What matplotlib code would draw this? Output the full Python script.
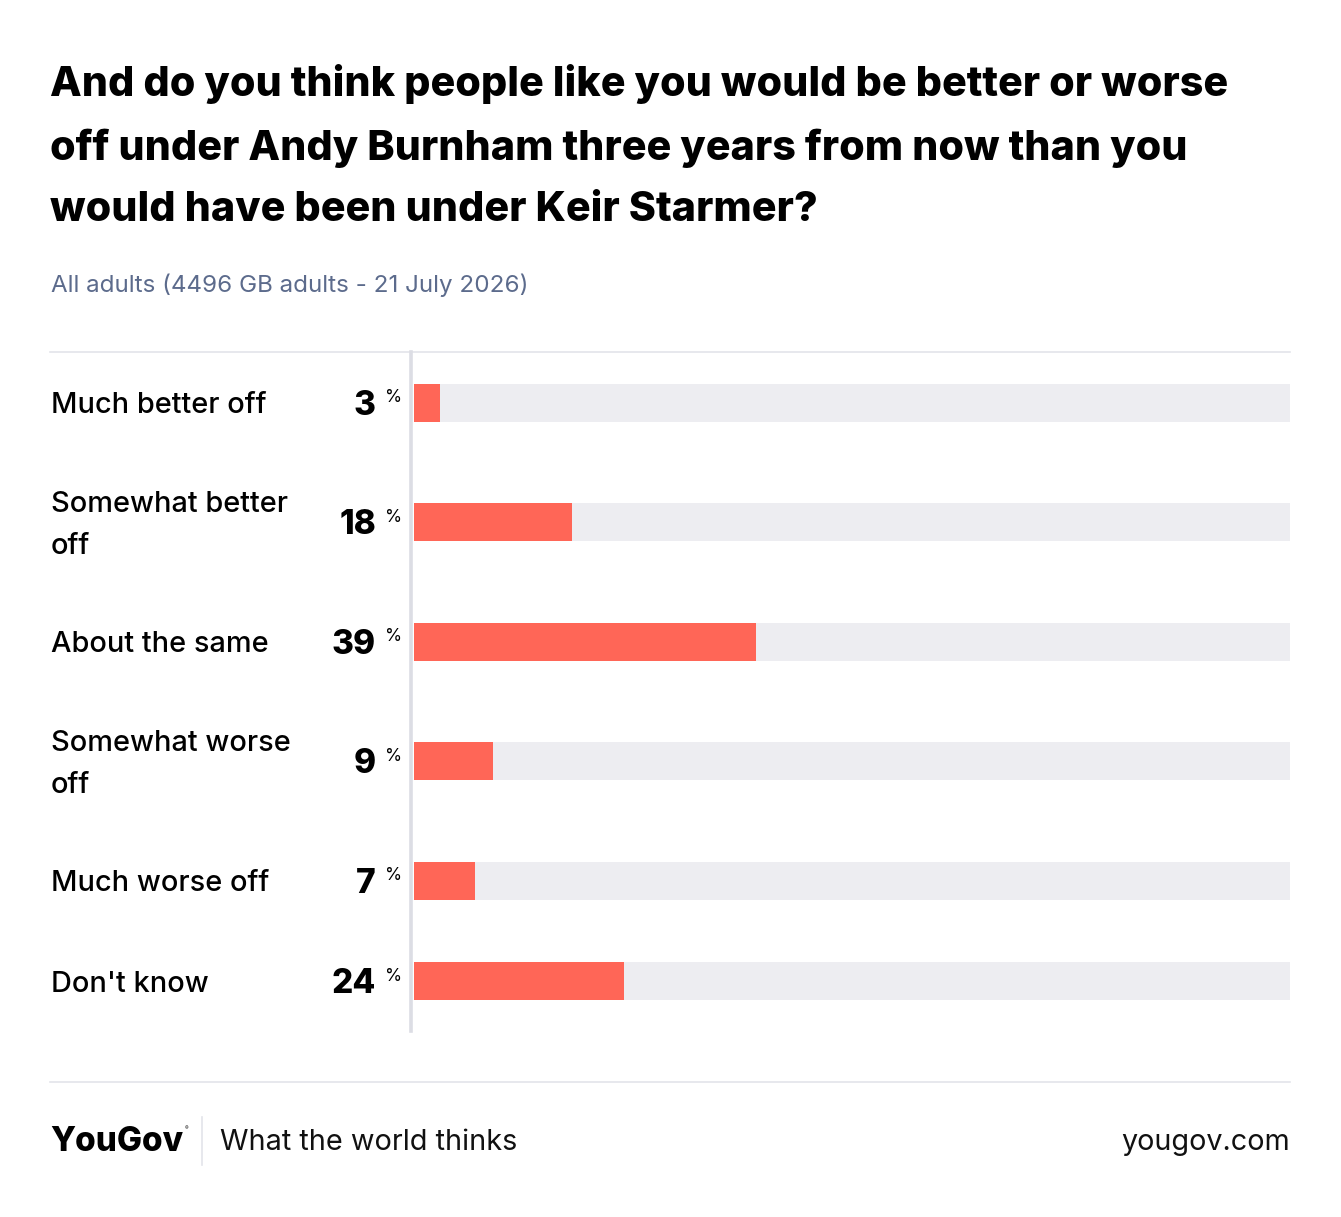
import matplotlib
matplotlib.use("Agg")
import matplotlib.pyplot as plt
import matplotlib.transforms as mtransforms
from matplotlib.lines import Line2D

# ---- data ----
categories = ["Much better off", "Somewhat better\noff", "About the same",
              "Somewhat worse\noff", "Much worse off", "Don't know"]
values = [3, 18, 39, 9, 7, 24]

title = ("And do you think people like you would be better or worse\n"
         "off under Andy Burnham three years from now than you\n"
         "would have been under Keir Starmer?")
subtitle = "All adults (4496 GB adults - 21 July 2026)"

# ---- layout ----
W, H = 1341, 1217
row_pos = [0, 1, 2, 3, 4, 4.837]
unit = 119.5
bar_color = "#ff6657"
track_color = "#ededf1"
FONT = "Inter"

plt.rcParams["font.family"] = [FONT, "DejaVu Sans"]

fig = plt.figure(figsize=(W / 100, H / 100), dpi=100)
fig.patch.set_facecolor("white")

def fx(x):
    return x / W

def fy(y):
    return 1 - y / H

# title
fig.text(fx(50), fy(64), title, ha="left", va="top", fontsize=29.7,
         fontweight="heavy", color="#000000", linespacing=1.77)
fig.text(fx(51), fy(285), subtitle, ha="left", va="center", fontsize=17.4,
         color="#5c6b8c")

# separators
fig.add_artist(Line2D([fx(50), fx(1290)], [fy(352), fy(352)], color="#e3e4ea", lw=1.2))
fig.add_artist(Line2D([fx(50), fx(1290)], [fy(1082), fy(1082)], color="#e3e4ea", lw=1.2))
fig.add_artist(Line2D([fx(411), fx(411)], [fy(352), fy(1031)], color="#dcdde4", lw=2.6))

# bar axes
ax_top, ax_bot = 352, 1030
ax = fig.add_axes([fx(414), fy(ax_bot), fx(1290 - 414), (ax_bot - ax_top) / H])
ax.set_xlim(0, 100)
ax.set_ylim((ax_bot - 403) / unit, -(403 - ax_top) / unit)
ax.axis("off")
bh = 38 / unit
ax.barh(row_pos, [100] * len(values), height=bh, color=track_color, lw=0)
ax.barh(row_pos, values, height=bh, color=bar_color, lw=0)

trans = mtransforms.blended_transform_factory(fig.transFigure, ax.transData)
for pos, cat, v in zip(row_pos, categories, values):
    ax.text(fx(51), pos + 3 / unit, cat, transform=trans, ha="left", va="center",
            fontsize=20.8, color="#000000", linespacing=1.76, fontweight="medium")
    ax.text(fx(376), pos + 3 / unit, str(v), transform=trans, ha="right", va="center",
            fontsize=24, fontweight="heavy", color="#000000")
    ax.text(fx(385), pos - 5 / unit, "%", transform=trans, ha="left", va="center",
            fontsize=12.5, color="#000000")

# footer
fig.text(fx(50), fy(1142), "YouGov", ha="left", va="center", fontsize=24,
         fontweight="heavy", color="#000000")
fig.text(fx(185), fy(1129), "®", ha="left", va="center", fontsize=4, color="#000000")
fig.add_artist(Line2D([fx(202), fx(202)], [fy(1117), fy(1165)], color="#e3e4ea", lw=1.2))
fig.text(fx(220), fy(1143), "What the world thinks", ha="left", va="center",
         fontsize=20.8, color="#111111")
fig.text(fx(1290), fy(1143), "yougov.com", ha="right", va="center",
         fontsize=20.7, color="#111111")

fig.savefig("out.png", dpi=100, facecolor="white")
